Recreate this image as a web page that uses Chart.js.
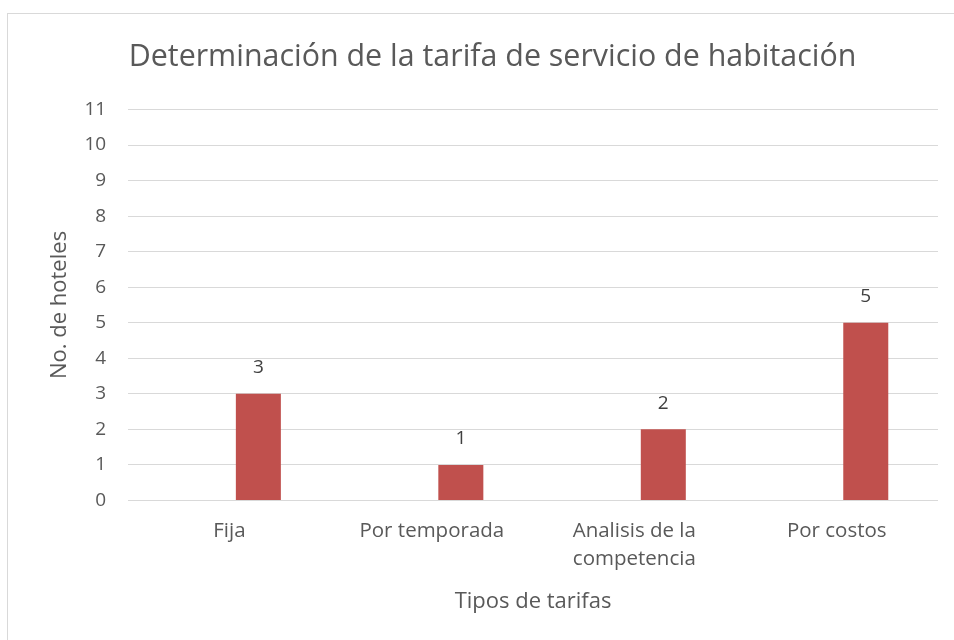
<!DOCTYPE html>
<html>
<head>
<meta charset="utf-8">
<script src="https://cdn.jsdelivr.net/npm/chart.js@4/dist/chart.umd.min.js"></script>
<style>
  html, body { margin: 0; padding: 0; background: #fff; overflow: hidden; }
  #frame { position: absolute; left: 7px; top: 13px; width: 1000px; height: 700px; border: 1px solid #d9d9d9; }
  #myChart { position: absolute; left: 0; top: 0; }
</style>
</head>
<body>
<div id="frame"></div>
<canvas id="myChart" width="954" height="640"></canvas>
<script>
var categories = [["Fija"], ["Por temporada"], ["Analisis de la", "competencia"], ["Por costos"]];
var emptySeries = [null, null, null, null];
var hoteles = [3, 1, 2, 5];
var yTicks = [0, 1, 2, 3, 4, 5, 6, 7, 8, 9, 10, 11];

var titleText = "Determinación de la tarifa de servicio de habitación";
var yTitle = "No. de hoteles";
var xTitle = "Tipos de tarifas";

var fontFamily = "'Open Sans', 'Noto Sans', sans-serif";

// draws the number over each bar, like excel data labels
var barLabels = {
    id: "barLabels",
    afterDatasetsDraw: function(chart) {
        var ctx = chart.ctx;
        var meta = chart.getDatasetMeta(1);
        ctx.save();
        ctx.fillStyle = "#404040";
        ctx.font = "19px " + fontFamily;
        ctx.textAlign = "center";
        ctx.textBaseline = "middle";
        meta.data.forEach(function(bar, i) {
            var v = chart.data.datasets[1].data[i];
            if (v == null) return;
            ctx.fillText(v, bar.x, bar.y - 26);
        });
        ctx.restore();
    }
};

var ctx = document.getElementById("myChart");
var myChart = new Chart(ctx, {
    type: "bar",
    data: {
        labels: categories,
        datasets: [
            { label: "", data: emptySeries, backgroundColor: "#4f81bd" },
            { label: "Hoteles", data: hoteles, backgroundColor: "#c0504d" }
        ]
    },
    options: {
        responsive: false,
        animation: false,
        devicePixelRatio: 1,
        categoryPercentage: 0.573,
        barPercentage: 0.776,
        layout: { padding: { left: 47, right: 16, top: 39, bottom: 25 } },
        plugins: {
            legend: { display: false },
            tooltip: { enabled: false },
            title: {
                display: true,
                text: titleText,
                color: "#595959",
                font: { family: fontFamily, size: 30.4, weight: "normal" },
                padding: { top: 0, bottom: 34 }
            }
        },
        scales: {
            x: {
                grid: { display: false, drawTicks: false },
                border: { display: false },
                ticks: {
                    color: "#595959",
                    font: { family: fontFamily, size: 20.5, lineHeight: 1.37 },
                    padding: 17,
                    maxRotation: 0
                },
                title: {
                    display: true,
                    text: xTitle,
                    color: "#595959",
                    font: { family: fontFamily, size: 22 },
                    padding: { top: -2, bottom: 0 }
                }
            },
            y: {
                min: 0,
                max: 11,
                afterBuildTicks: function(axis) {
                    axis.ticks = yTicks.map(function(v) { return { value: v }; });
                },
                grid: { color: "#d9d9d9", lineWidth: 1, drawTicks: false },
                border: { display: false },
                ticks: {
                    color: "#595959",
                    font: { family: fontFamily, size: 19 },
                    padding: 22
                },
                title: {
                    display: true,
                    text: yTitle,
                    color: "#595959",
                    font: { family: fontFamily, size: 22 },
                    padding: { top: 0, bottom: -11 }
                }
            }
        }
    },
    plugins: [barLabels]
});
</script>
</body>
</html>
